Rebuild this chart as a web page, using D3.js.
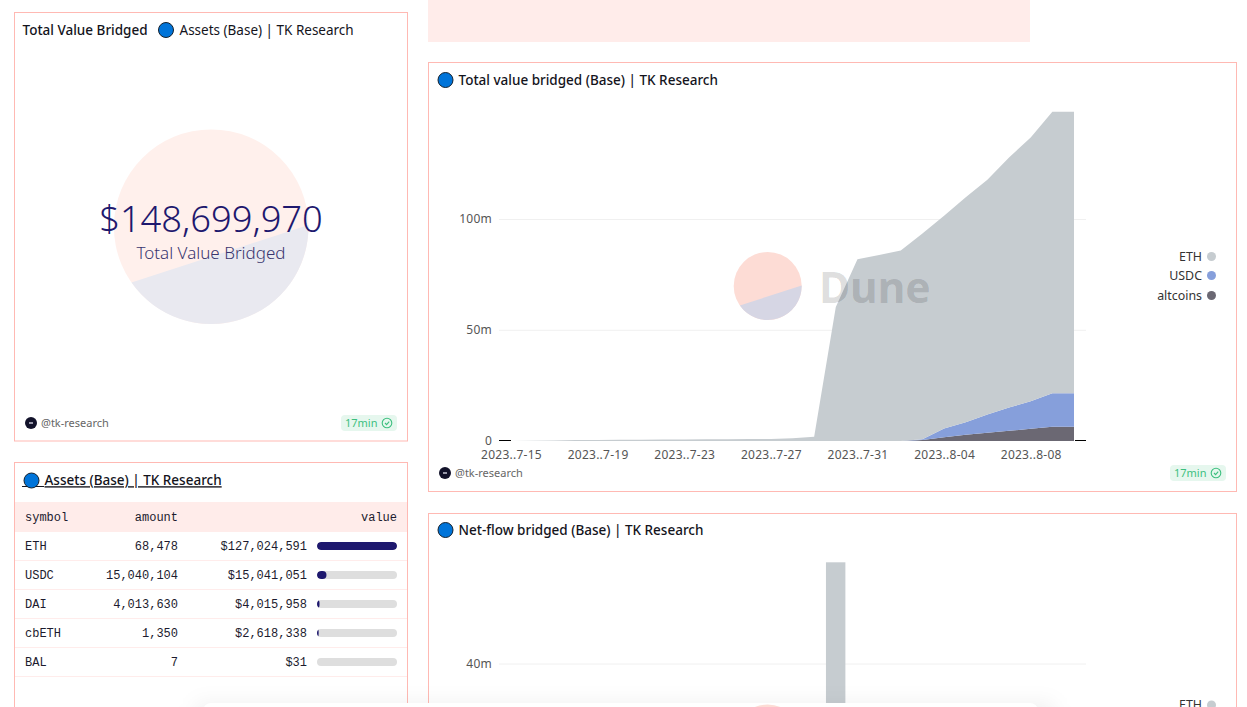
<!DOCTYPE html>
<html>
<head>
<meta charset="utf-8">
<title>Base bridge dashboard</title>
<script src="https://cdn.jsdelivr.net/npm/d3@7"></script>
<style>
  html, body { margin: 0; padding: 0; background: #fff; overflow: hidden; }
  svg { display: block; }
  text { font-family: "Noto Sans", sans-serif; }
  .mono { font-family: "Liberation Mono", monospace; font-size: 12px; fill: #1c1b2e; }
  .axis path { display: none; }
  .axis line { display: none; }
  .axis text { font-family: "Noto Sans", sans-serif; font-size: 12px; letter-spacing: 0.25px; fill: #555; }
</style>
</head>
<body>
<svg id="page" width="1247" height="707"></svg>
<script>
// data
var dates = ["2023-07-15", "2023-07-16", "2023-07-17", "2023-07-18", "2023-07-19", "2023-07-20", "2023-07-21",
    "2023-07-22", "2023-07-23", "2023-07-24", "2023-07-25", "2023-07-26", "2023-07-27", "2023-07-28", "2023-07-29",
    "2023-07-30", "2023-07-31", "2023-08-01", "2023-08-02", "2023-08-03", "2023-08-04", "2023-08-05", "2023-08-06",
    "2023-08-07", "2023-08-08", "2023-08-09", "2023-08-10"];
var ethValues = [0.02, 0.1, 0.25, 0.4, 0.5, 0.55, 0.6, 0.65, 0.7, 0.75, 0.8, 0.85, 0.95, 1.2, 1.9,
    60.5, 82, 84, 86, 92.9, 96, 101.5, 106, 112.9, 119.1, 127, 127.1];
var usdcValues = [0, 0, 0, 0, 0, 0, 0, 0, 0, 0, 0, 0, 0, 0, 0,
    0, 0, 0, 0, 0.3, 4, 5.7, 8.3, 10.5, 12.4, 15.2, 15.2];
var altValues = [0, 0, 0, 0, 0, 0, 0, 0, 0, 0, 0, 0, 0, 0, 0,
    0, 0, 0, 0, 0.5, 1.7, 2.8, 3.7, 4.6, 5.5, 6.4, 6.4];
var tickDates = ["2023-07-15", "2023-07-19", "2023-07-23", "2023-07-27", "2023-07-31", "2023-08-04", "2023-08-08"];

var netflowDates = ["2023-07-30"];
var netflowEth = [58];

var symbols = ["ETH", "USDC", "DAI", "cbETH", "BAL"];
var amounts = [68478, 15040104, 4013630, 1350, 7];
var assetValues = [127024591, 15041051, 4015958, 2618338, 31];
var totalBridged = 148699970;

var seriesNames = ["ETH", "USDC", "altcoins"];
var seriesColors = ["#c6ccd0", "#869fdb", "#6b6873"];

var pink = "#ffb9b3";
var navy = "#1e186e";
var svg = d3.select("#page");
var parseDay = d3.utcParse("%Y-%m-%d");

function card(x, y, w, h) {
    svg.append("rect").attr("x", x).attr("y", y).attr("width", w).attr("height", h)
        .attr("fill", "#fff").attr("stroke", pink);
}

function blueDot(cx, cy) {
    svg.append("circle").attr("cx", cx).attr("cy", cy).attr("r", 7.5)
        .attr("fill", "#0074d9").attr("stroke", "#14202c").attr("stroke-width", 1);
}

function title(x, y, str) {
    return svg.append("text").attr("x", x).attr("y", y).attr("dy", "0.35em")
        .attr("font-size", 13.5).attr("font-weight", 500).attr("fill", "#14141c").text(str);
}

// the dune circle is cut by a chord, so the lower part is its own path
function duneCircle(g, cx, cy, r, topColor, bottomColor) {
    g.append("circle").attr("cx", cx).attr("cy", cy).attr("r", r).attr("fill", topColor);
    var a0 = -1 * Math.PI / 180, a1 = 145 * Math.PI / 180;
    var p = d3.path();
    p.moveTo(cx + r * Math.cos(a0), cy + r * Math.sin(a0));
    p.arc(cx, cy, r, a0, a1);
    p.closePath();
    g.append("path").attr("d", p.toString()).attr("fill", bottomColor);
}

function footer(x, y, badgeX) {
    svg.append("circle").attr("cx", x).attr("cy", y).attr("r", 6).attr("fill", "#12122a");
    svg.append("rect").attr("x", x - 2).attr("y", y - 1).attr("width", 4).attr("height", 2).attr("fill", "#99a");
    svg.append("text").attr("x", x + 10).attr("y", y).attr("dy", "0.35em")
        .attr("font-size", 11).attr("fill", "#666").text("@tk-research");
    svg.append("rect").attr("x", badgeX).attr("y", y - 8).attr("width", 56).attr("height", 16).attr("rx", 4)
        .attr("fill", "#e6f7ee");
    svg.append("text").attr("x", badgeX + 4).attr("y", y).attr("dy", "0.35em")
        .attr("font-size", 11).attr("fill", "#3dbf7f").text("17min");
    svg.append("circle").attr("cx", badgeX + 46).attr("cy", y).attr("r", 4.8)
        .attr("fill", "none").attr("stroke", "#3dbf7f").attr("stroke-width", 1.1);
    svg.append("path").attr("d", d3.line()([[badgeX + 44, y], [badgeX + 45.6, y + 1.6], [badgeX + 48.2, y - 1.4]]))
        .attr("fill", "none").attr("stroke", "#3dbf7f").attr("stroke-width", 1.1);
}

function legend(yList) {
    seriesNames.forEach(function(name, i) {
        svg.append("text").attr("x", 1202).attr("y", yList[i]).attr("dy", "0.35em").attr("text-anchor", "end")
            .attr("font-size", 12.4).attr("fill", "#333").text(name);
        svg.append("circle").attr("cx", 1211.5).attr("cy", yList[i]).attr("r", 4.5).attr("fill", seriesColors[i]);
    });
}

// page frame
svg.append("rect").attr("x", 428).attr("y", 0).attr("width", 602).attr("height", 42).attr("fill", "#ffecea");
card(14.5, 12.5, 393, 428.5);
card(14.5, 462.5, 393, 300);
card(428.5, 62.5, 808, 429);
card(428.5, 513.5, 808, 300);

// counter card
title(22.5, 30, "Total Value Bridged");
blueDot(166, 30);
svg.append("text").attr("x", 179.5).attr("y", 30).attr("dy", "0.35em")
    .attr("font-size", 13.5).attr("fill", "#14141c").text("Assets (Base) | TK Research");
duneCircle(svg, 211.2, 226.7, 97.3, "#fff0ec", "#e9e9f0");
svg.append("text").attr("x", 211).attr("y", 232).attr("text-anchor", "middle")
    .attr("font-size", 36.3).attr("font-weight", 300).attr("fill", navy).text(d3.format("$,")(totalBridged));
svg.append("text").attr("x", 211).attr("y", 259).attr("text-anchor", "middle")
    .attr("font-size", 17).attr("font-weight", 300).attr("fill", "#39366f").text("Total Value Bridged");
footer(31, 423, 341);

// assets table
var heading = title(44.5, 480.5, "Assets (Base) | TK Research").attr("text-decoration", "underline");
svg.append("line").attr("x1", 22).attr("x2", 44).attr("y1", 486.5).attr("y2", 486.5).attr("stroke", "#14141c");
blueDot(31.5, 480.5);

svg.append("rect").attr("x", 15).attr("y", 502).attr("width", 392).attr("height", 30).attr("fill", "#ffecea");
var headRow = svg.append("g");
[["symbol", 25, "start"], ["amount", 178, "end"], ["value", 397, "end"]].forEach(function(h) {
    headRow.append("text").attr("class", "mono").attr("x", h[1]).attr("y", 517).attr("dy", "0.35em")
        .attr("text-anchor", h[2]).text(h[0]);
});

var rowY = d3.scaleBand().domain(symbols).range([531.5, 676.5]);
var barX = d3.scaleLinear().domain([0, d3.max(assetValues)]).range([317, 397]);

symbols.forEach(function(sym, i) {
    var mid = rowY(sym) + rowY.bandwidth() / 2;
    svg.append("line").attr("x1", 15).attr("x2", 407)
        .attr("y1", rowY(sym) + rowY.bandwidth()).attr("y2", rowY(sym) + rowY.bandwidth())
        .attr("stroke", "#ffeceb");
    svg.append("text").attr("class", "mono").attr("x", 25).attr("y", mid).attr("dy", "0.35em").text(sym);
    svg.append("text").attr("class", "mono").attr("x", 178).attr("y", mid).attr("dy", "0.35em")
        .attr("text-anchor", "end").text(d3.format(",")(amounts[i]));
    svg.append("text").attr("class", "mono").attr("x", 307).attr("y", mid).attr("dy", "0.35em")
        .attr("text-anchor", "end").text(d3.format("$,")(assetValues[i]));
    svg.append("clipPath").attr("id", "bar" + i).append("rect")
        .attr("x", 317).attr("y", mid - 4).attr("width", 80).attr("height", 8).attr("rx", 4);
    svg.append("rect").attr("x", 317).attr("y", mid - 4).attr("width", 80).attr("height", 8).attr("rx", 4)
        .attr("fill", "#dedede");
    svg.append("rect").attr("x", 317).attr("y", mid - 4).attr("width", barX(assetValues[i]) - 317).attr("height", 8)
        .attr("rx", 4).attr("fill", navy).attr("clip-path", "url(#bar" + i + ")");
});

// total value bridged chart
blueDot(445.5, 80);
title(458.5, 80, "Total value bridged (Base) | TK Research");

var x = d3.scaleUtc().domain([parseDay(dates[0]), parseDay(dates[dates.length - 1])]).range([511, 1074]);
var y = d3.scaleLinear().domain([0, 100e6]).range([441, 219.5]);

[50e6, 100e6].forEach(function(v) {
    svg.append("line").attr("x1", 499).attr("x2", 1086).attr("y1", y(v)).attr("y2", y(v)).attr("stroke", "#f0f0f0");
});
// the zero line only shows outside the stacked area
[[499, 511], [1075, 1086]].forEach(function(seg) {
    svg.append("line").attr("x1", seg[0]).attr("x2", seg[1]).attr("y1", 440.5).attr("y2", 440.5).attr("stroke", "#000");
});

var table = dates.map(function(d, i) {
    return { date: parseDay(d), ETH: ethValues[i] * 1e6, USDC: usdcValues[i] * 1e6, altcoins: altValues[i] * 1e6 };
});
// altcoins sit on the bottom of the stack
var stacked = d3.stack().keys(seriesNames.slice().reverse())(table);
var area = d3.area().x(function(d) { return x(d.data.date); })
    .y0(function(d) { return y(d[0]); })
    .y1(function(d) { return y(d[1]); });

svg.selectAll(".layer").data(stacked).enter().append("path").attr("class", "layer")
    .attr("d", area)
    .attr("fill", function(d) { return seriesColors[seriesNames.indexOf(d.key)]; });

svg.append("g").attr("class", "axis").attr("transform", "translate(0,441)")
    .call(d3.axisBottom(x).tickValues(tickDates.map(parseDay)).tickSize(0).tickPadding(9)
        .tickFormat(d3.utcFormat("%Y..%-m-%d")));
svg.append("g").attr("class", "axis").attr("transform", "translate(492,-0.5)")
    .call(d3.axisLeft(y).tickValues([0, 50e6, 100e6]).tickSize(0).tickPadding(0)
        .tickFormat(function(v) { return v === 0 ? "0" : v / 1e6 + "m"; }));

// watermark
var mark = svg.append("g");
duneCircle(mark, 767.7, 286, 34, "#fddcd5", "#d6d6e4");
svg.append("text").attr("x", 819).attr("y", 302.5).attr("font-size", 42.5).attr("font-weight", 700)
    .attr("fill", "#000").attr("fill-opacity", 0.15).text("Dune");

legend([256.5, 275.5, 295.5]);
footer(445, 473, 1170);

// net-flow chart, only its top is on screen
blueDot(445.5, 530);
title(458.5, 530, "Net-flow bridged (Base) | TK Research");

var y2 = d3.scaleLinear().domain([0, 40e6]).range([890, 664]);
var band = d3.scaleBand().domain(dates).range([500, 1085]).padding(0.1);
svg.append("line").attr("x1", 499).attr("x2", 1086).attr("y1", y2(40e6)).attr("y2", y2(40e6)).attr("stroke", "#f0f0f0");
svg.append("g").attr("class", "axis").attr("transform", "translate(492,-0.5)")
    .call(d3.axisLeft(y2).tickValues([40e6]).tickSize(0).tickPadding(0)
        .tickFormat(function(v) { return v / 1e6 + "m"; }));
svg.selectAll(".flow").data(netflowDates).enter().append("rect").attr("class", "flow")
    .attr("x", function(d) { return band(d); })
    .attr("width", band.bandwidth())
    .attr("y", function(d, i) { return y2(netflowEth[i] * 1e6); })
    .attr("height", function(d, i) { return y2(0) - y2(netflowEth[i] * 1e6); })
    .attr("fill", seriesColors[0]);
svg.append("text").attr("x", 1202).attr("y", 705).attr("dy", "0.35em").attr("text-anchor", "end")
    .attr("font-size", 12.4).attr("fill", "#333").text("ETH");
svg.append("circle").attr("cx", 1211.5).attr("cy", 705).attr("r", 4.5).attr("fill", seriesColors[0]);

// floating bar at the bottom edge of the window
var defs = svg.append("defs");
var blur = defs.append("filter").attr("id", "shade").attr("x", "-5%").attr("y", "-200%").attr("width", "110%").attr("height", "400%");
blur.append("feGaussianBlur").attr("stdDeviation", 10);
svg.append("rect").attr("x", 195).attr("y", 703).attr("width", 860).attr("height", 40).attr("rx", 8)
    .attr("fill", "#000").attr("fill-opacity", 0.06).attr("filter", "url(#shade)");
svg.append("rect").attr("x", 203).attr("y", 703).attr("width", 835).attr("height", 40).attr("rx", 8).attr("fill", "#fff");
// next card's watermark peeks through the bar
svg.append("circle").attr("cx", 767.7).attr("cy", 738.5).attr("r", 34).attr("fill", "#fddcd5");
</script>
</body>
</html>
